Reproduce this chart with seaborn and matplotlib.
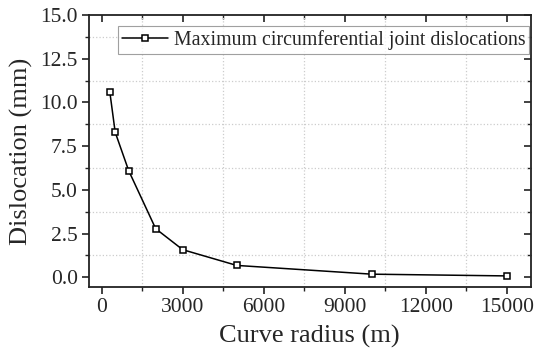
import matplotlib
matplotlib.use("Agg")
import matplotlib.pyplot as plt
import seaborn as sns
import pandas as pd
from matplotlib.ticker import MultipleLocator, FormatStrFormatter

radius = [300, 500, 1000, 2000, 3000, 5000, 10000, 15000]
dislocation = [10.62, 8.3, 6.1, 2.78, 1.58, 0.68, 0.18, 0.08]
series_name = "Maximum circumferential joint dislocations"

df = pd.DataFrame({"radius": radius, "dislocation": dislocation})

sns.set_theme(style="ticks")
plt.rcParams['font.family'] = ['Liberation Serif', 'DejaVu Serif']

fig = plt.figure(figsize=(5.36, 3.58), dpi=100)
ax = fig.add_axes([0.166, 0.199, 0.824, 0.759])

sns.lineplot(data=df, x="radius", y="dislocation", ax=ax, color="black",
             linewidth=1.1, marker="s", markersize=5, markerfacecolor="white",
             markeredgecolor="black", markeredgewidth=1.1, label=series_name)

ax.set_xlim(-470, 15880)
ax.set_ylim(-0.54, 15.0)
ax.xaxis.set_major_locator(MultipleLocator(3000))
ax.xaxis.set_minor_locator(MultipleLocator(1500))
ax.yaxis.set_major_locator(MultipleLocator(2.5))
ax.yaxis.set_minor_locator(MultipleLocator(1.25))
ax.yaxis.set_major_formatter(FormatStrFormatter('%.1f'))

ax.grid(which="minor", linestyle=":", color="#cccccc", linewidth=0.9)
ax.grid(which="major", visible=False)

for s in ax.spines.values():
    s.set_linewidth(1.3)
    s.set_color("#222222")

ax.tick_params(which="major", direction="out", length=5, width=1.2, labelsize=15.5,
               color="#222222", pad=3)
ax.tick_params(which="minor", direction="out", length=3, width=1.0, color="#222222")
ax.tick_params(top=False, right=False, which="both")

secx = ax.secondary_xaxis('top')
secx.xaxis.set_major_locator(MultipleLocator(3000))
secx.xaxis.set_minor_locator(MultipleLocator(1500))
secx.tick_params(which="major", direction="in", length=5, width=1.2, color="#222222")
secx.tick_params(which="minor", direction="in", length=3, width=1.0, color="#222222")
secx.set_xticklabels([])
secy = ax.secondary_yaxis('right')
secy.yaxis.set_major_locator(MultipleLocator(2.5))
secy.yaxis.set_minor_locator(MultipleLocator(1.25))
secy.tick_params(which="major", direction="in", length=5, width=1.2, color="#222222")
secy.tick_params(which="minor", direction="in", length=3, width=1.0, color="#222222")
secy.set_yticklabels([])
for s in secx.spines.values():
    s.set_visible(False)
for s in secy.spines.values():
    s.set_visible(False)

ax.set_xlabel("Curve radius (m)", fontsize=19, labelpad=6)
ax.set_ylabel("Dislocation (mm)", fontsize=19, labelpad=5)

leg = ax.legend(loc="upper left", bbox_to_anchor=(0.066, 0.958), fontsize=14.3,
                frameon=True, fancybox=False, edgecolor="#888888",
                handlelength=2.3, borderpad=0.2, handletextpad=0.3,
                borderaxespad=0)
leg.get_frame().set_linewidth(0.8)

fig.savefig("out.png", dpi=100)
